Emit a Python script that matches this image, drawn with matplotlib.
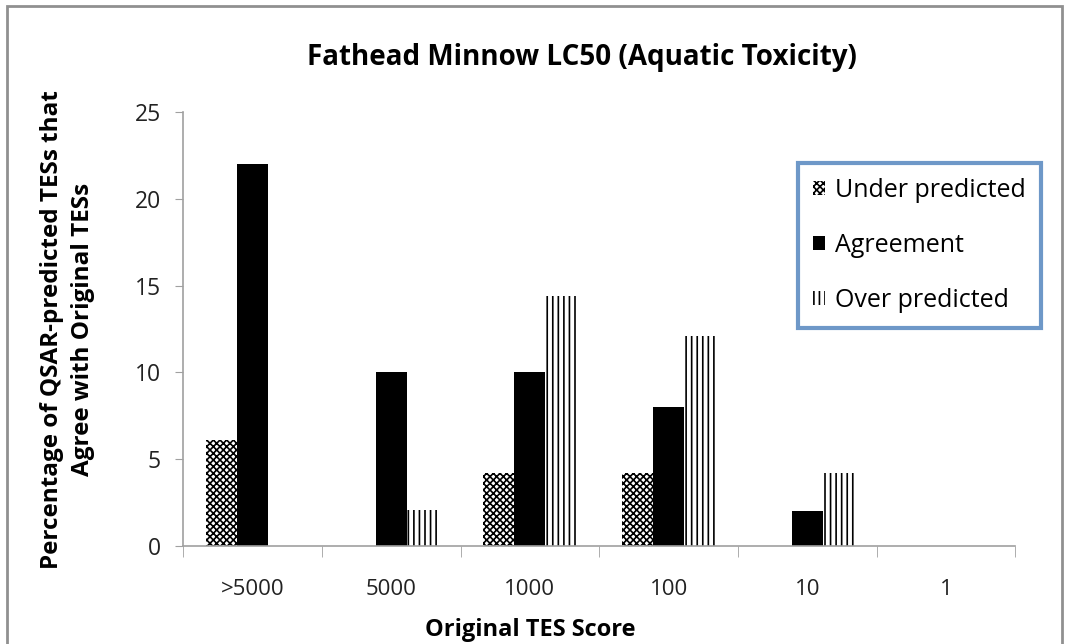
import numpy as np
import matplotlib.pyplot as plt
from matplotlib.patches import Rectangle

categories = [">5000", "5000", "1000", "100", "10", "1"]
under_predicted = [6.1, 0, 4.2, 4.2, 0, 0]
agreement = [22, 10, 10, 8, 2, 0]
over_predicted = [0, 2.1, 14.4, 12.1, 4.2, 0]

plt.rcParams['font.family'] = ['Open Sans', 'DejaVu Sans']
plt.rcParams['hatch.linewidth'] = 1.2

fig = plt.figure(figsize=(10.71, 6.44), dpi=100)
ax = fig.add_axes([0.171, 0.152, 0.777, 0.674])

x = np.arange(len(categories))
w = 0.225
ax.bar(x - w, under_predicted, w, color='white', edgecolor='black', hatch='xxxxx',
       linewidth=0, label='Under predicted')
ax.bar(x, agreement, w, color='black', edgecolor='black', linewidth=0, label='Agreement')
ax.bar(x + w, over_predicted, w, color='white', edgecolor='black', hatch='|||',
       linewidth=0, label='Over predicted')

ax.set_xlim(-0.5, len(categories) - 0.5)
ax.set_ylim(0, 25)
ax.set_yticks([0, 5, 10, 15, 20, 25])
ax.set_xticks(x)
ax.set_xticklabels(categories)
ax.set_xticks(np.arange(len(categories) + 1) - 0.5, minor=True)
ax.tick_params(axis='x', which='major', length=0, labelsize=16, pad=24, colors='#222222')
ax.tick_params(axis='x', which='minor', length=8, color='#a0a0a0', direction='out')
ax.tick_params(axis='y', length=6, color='#a0a0a0', labelsize=16.5, pad=10, labelcolor='#222222')

for s in ['top', 'right']:
    ax.spines[s].set_visible(False)
for s in ['left', 'bottom']:
    ax.spines[s].set_color('#a0a0a0')
    ax.spines[s].set_linewidth(1.2)

fig.text(0.543, 0.91, "Fathead Minnow LC50 (Aquatic Toxicity)", fontsize=20, fontweight='bold',
         ha='center', va='center')
ax.set_xlabel("Original TES Score", fontsize=17, fontweight='bold', va='center')
ax.xaxis.set_label_coords(0.417, -0.194)
ax.set_ylabel("Percentage of QSAR-predicted TESs that\nAgree with Original TESs", fontsize=17.5,
              fontweight='bold', linespacing=1.35, va='center')
ax.yaxis.set_label_coords(-0.139, 0.5)

leg = ax.legend(loc='upper left', bbox_to_anchor=(0.745, 0.747),
                bbox_transform=fig.transFigure, fontsize=18, frameon=True,
                fancybox=False, handlelength=0.5, handleheight=0.5, handletextpad=0.4,
                labelspacing=1.2, borderpad=0.6, borderaxespad=0)
leg.get_frame().set_edgecolor('#4a7ebb')
leg.get_frame().set_linewidth(3)

fig.patches.append(Rectangle((0.007, -0.01), 0.985, 1.0, transform=fig.transFigure,
                             fill=False, edgecolor='#909090', linewidth=2))

fig.savefig("out.png", dpi=100)
